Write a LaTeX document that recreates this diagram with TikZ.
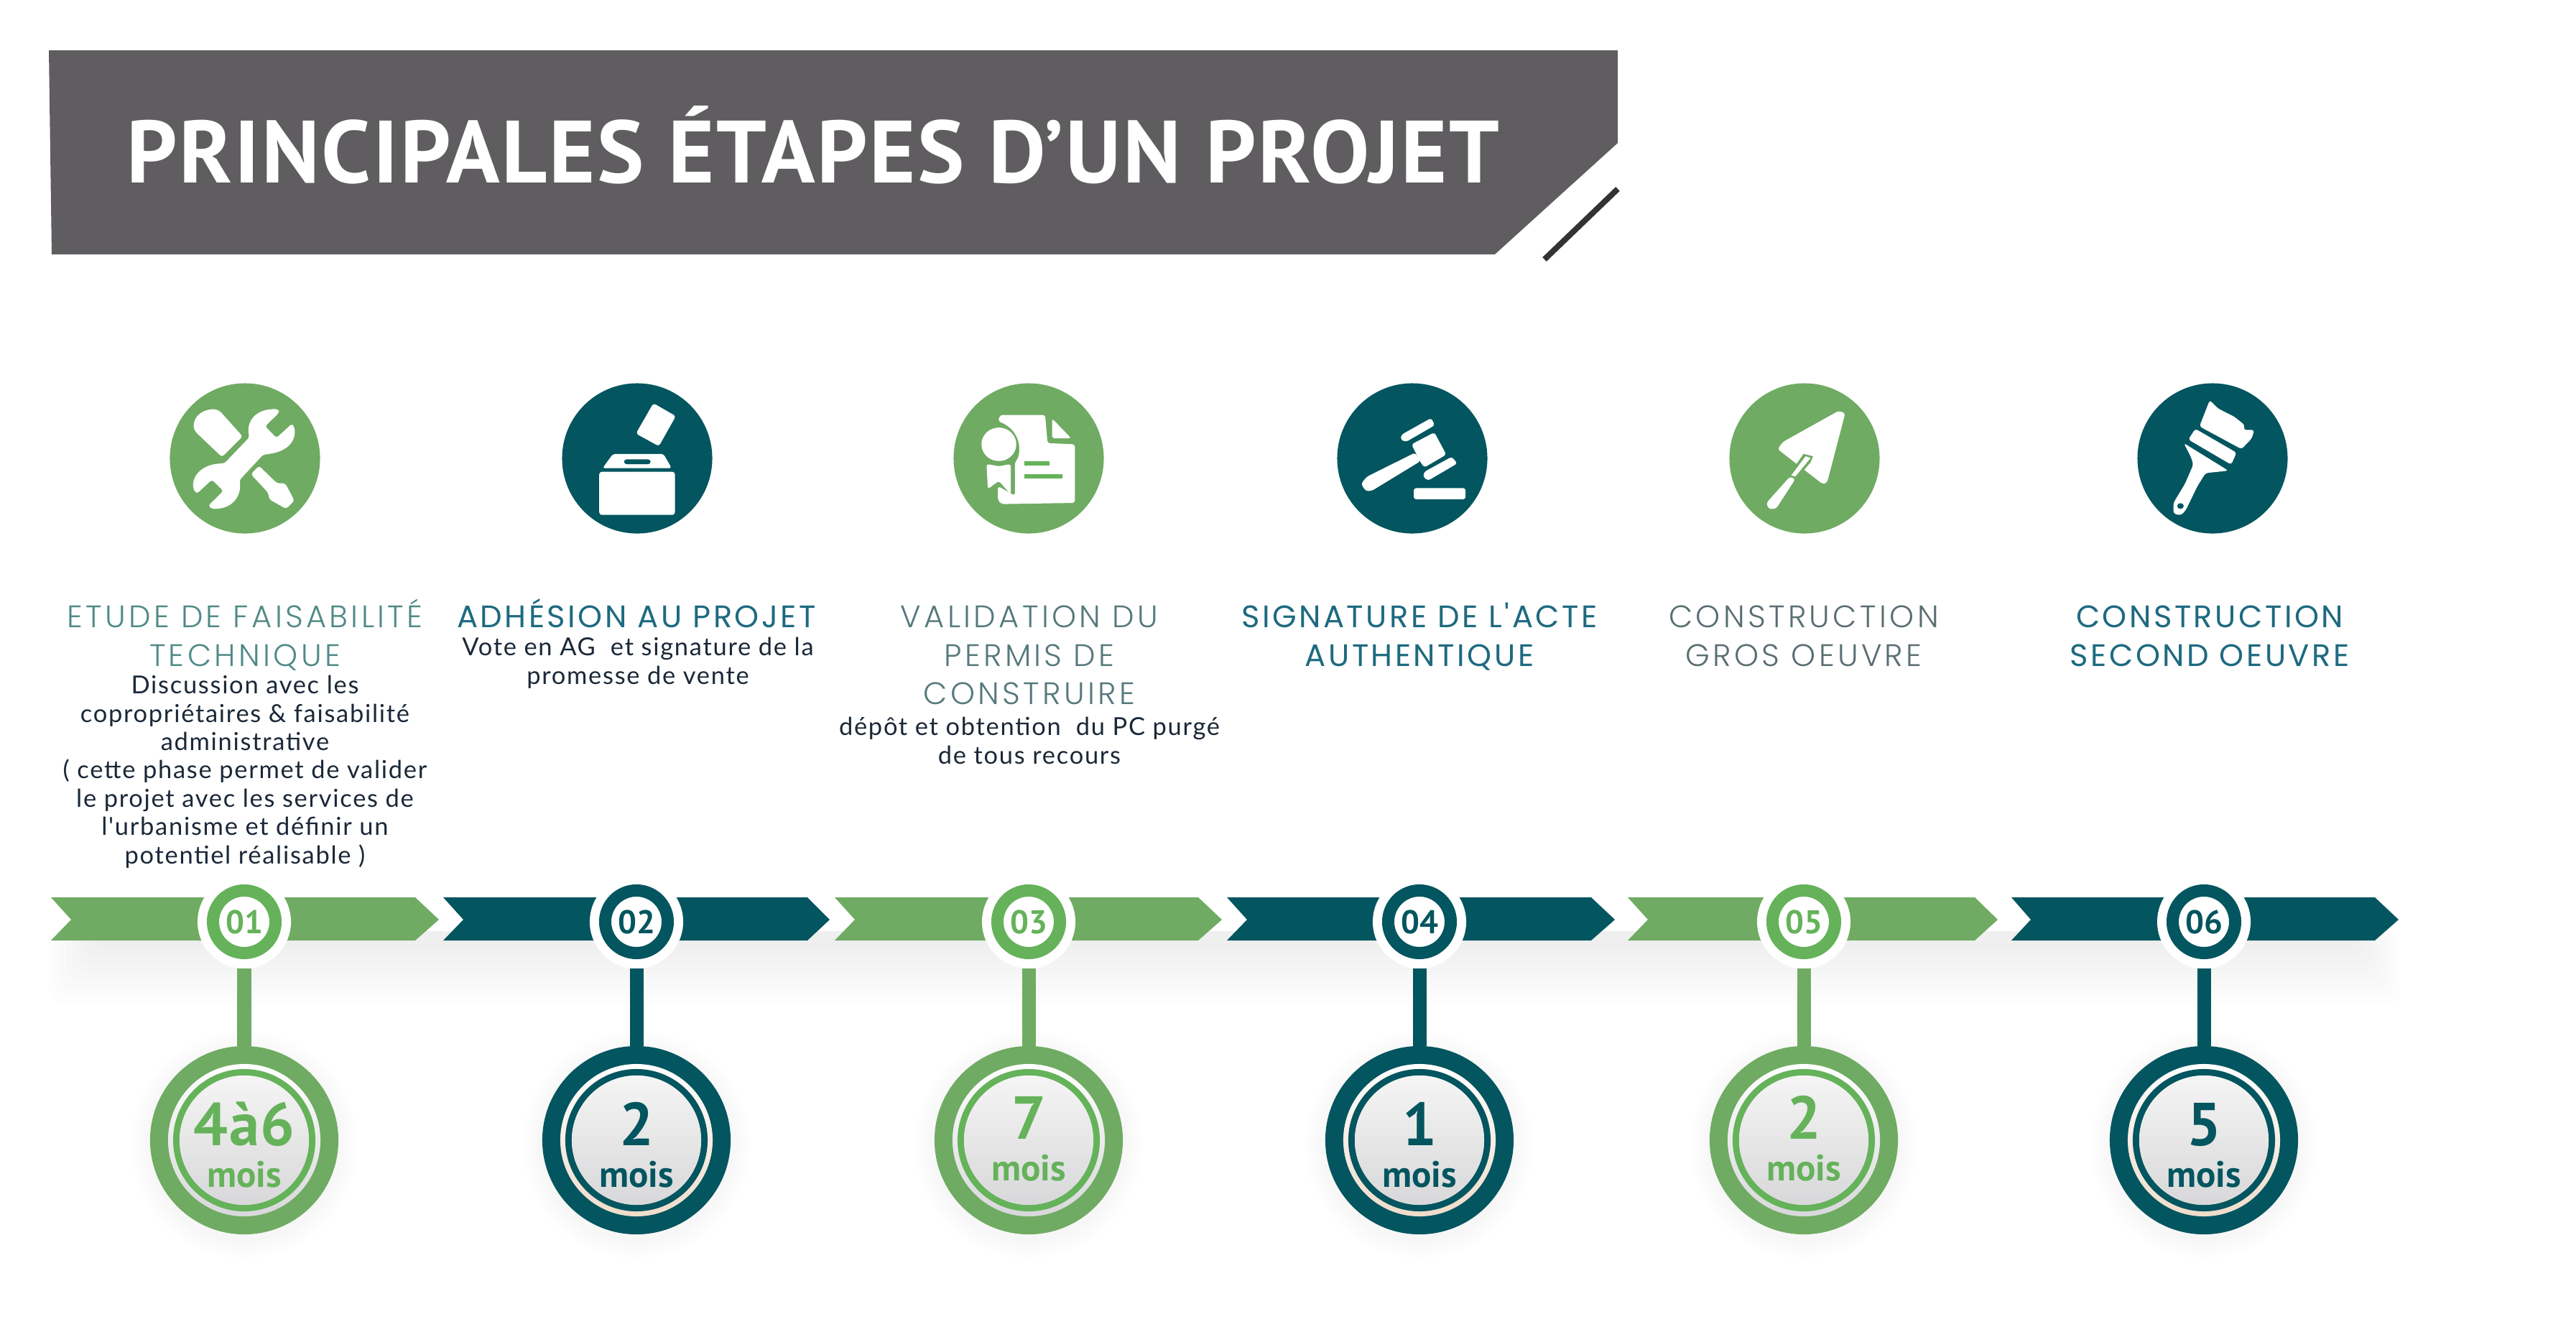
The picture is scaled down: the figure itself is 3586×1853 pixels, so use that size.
\documentclass[tikz,border=0pt]{standalone}
\usepackage{fontspec}
\setmainfont{Lato}
\newfontfamily\headf[LetterSpace=2.2]{PT Sans}
\newfontfamily\numf{PT Sans}
\newfontfamily\thinf[LetterSpace=10]{Poppins Light}
\newfontfamily\regf[LetterSpace=8]{Poppins}
\newfontfamily\bodyf[LetterSpace=5]{Lato}
\definecolor{grn}{HTML}{6FAB62}
\definecolor{grnb}{HTML}{65B25A}
\definecolor{tl}{HTML}{03555F}
\definecolor{ttlgrey}{HTML}{5F5D60}
\definecolor{softg}{HTML}{D8D8DA}
\definecolor{softp}{HTML}{EFDCCB}
\definecolor{thing}{HTML}{4F8A86}
\definecolor{thinb}{HTML}{56797C}
\definecolor{thingr}{HTML}{5A6E72}
\definecolor{regt}{HTML}{1E6A80}
\definecolor{bodyc}{HTML}{1B2838}
\newcommand\firstline{\rule{0pt}{.45cm}}
\newcommand\firstbody{\rule{0pt}{.30cm}}
\tikzset{
  dot/.style={circle,fill=white,inner sep=0pt,outer sep=0pt,minimum size=1.30cm,font=\numf\bfseries\fontsize{13}{13}\selectfont},
  disc/.style={circle,inner sep=0pt,outer sep=0pt,minimum size=2.62cm},
  ico/.style={circle,inner sep=0pt,outer sep=0pt,minimum size=2.09cm},
  dur/.style={anchor=base,inner sep=0pt,font=\numf\bfseries\fontsize{24}{24}\selectfont},
  durm/.style={anchor=base,inner sep=0pt,font=\numf\bfseries\fontsize{14.5}{14.5}\selectfont},
  ttl/.style={align=center,anchor=north,inner sep=0pt},
  thintitle/.style={ttl,font=\thinf\fontsize{12.3}{15.2}\selectfont},
  regtitle/.style={ttl,text=regt,font=\regf\fontsize{12.3}{15.2}\selectfont},
  bodytxt/.style={align=center,anchor=north,inner sep=0pt,text=bodyc,font=\bodyf\fontsize{9.8}{11.2}\selectfont},
  wh/.style={fill=white,draw=none,rounded corners=1pt},
}
\newcommand\arrowshape[6]{% colour, x0, notch, shoulder, tip
  \fill[#1] (#2,1249) -- (#4,1249) -- (#5,1280) -- (#4,1309) -- (#2,1309) -- (#3,1280) -- cycle;}
\newcommand\stage[7]{%
  \node[dot,text=#3] (b#1) at (#2,1283) {#4};
  \draw[#3,line width=.17cm] (b#1.center) circle [radius=.435cm];
  \foreach \i in {1,...,8}
    \fill[black,opacity=.005] (#2,{1593}) circle [radius={(1.31+\i*0.035)*1cm}];
  \node[disc,fill=#7] (d#1) at (#2,1587) {};
  \draw[#7,line width=.19cm] (b#1) -- (d#1);
  \shade[top color=white,middle color=white,bottom color=softbase] (d#1.center) circle [radius=1.06cm];
  \draw[#3,line width=.09cm] (d#1.center) circle [radius=.945cm];
  \shade[top color=white!96!black,bottom color=softg] (d#1.center) circle [radius=.90cm];
  \node[dur,text=#3] (n#1) at (#2,#6) {#5};
  \node[durm,text=#3] (m#1) at (#2,{#6+58}) {mois};
}
\colorlet{softbase}{softg}
\begin{document}
\begin{tikzpicture}[x=0.01cm,y=-0.01cm]
\useasboundingbox (0,0) rectangle (3586,1853);
\fill[white] (0,0) rectangle (3586,1853);

% banner
\fill[ttlgrey] (68,70) -- (2252,70) -- (2252,199) -- (2081,354) -- (72,354) -- cycle;
\draw[black!80,line width=.08cm] (2150,361) -- (2252,263);
\node[anchor=base west,inner sep=0pt,text=white,font=\headf\bfseries\fontsize{35}{40}\selectfont] (head) at (176,254) {PRINCIPALES ÉTAPES D’UN PROJET};

% band shadow
\foreach \i in {1,...,8}
  \fill[black,opacity=.006,rounded corners=.2cm] ({60+\i*8},1296) rectangle ({3350-\i*8},{1310+(9-\i)*11});

% arrows
\arrowshape{grn}{71}{99}{578}{611}{}
\arrowshape{tl}{617}{645}{1124}{1155}{}
\arrowshape{grn}{1162}{1190}{1668}{1701}{}
\arrowshape{tl}{1708}{1736}{2215}{2248}{}
\arrowshape{grn}{2266}{2294}{2749}{2781}{}
\arrowshape{tl}{2800}{2827}{3306}{3339}{}

% stages
\colorlet{softbase}{softg}
\stage{1}{340}{grnb}{01}{4\kern.02em à\kern.02em 6}{1594}{grn}
\stage{3}{1432}{grnb}{03}{7}{1585}{grn}
\stage{5}{2511}{grnb}{05}{2}{1585}{grn}
\colorlet{softbase}{softp}
\stage{2}{886}{tl}{02}{2}{1594}{tl}
\stage{4}{1976}{tl}{04}{1}{1594}{tl}
\stage{6}{3068}{tl}{06}{5}{1594}{tl}

% icon discs
\node[ico,fill=grn] (i1) at (341,638) {};
\node[ico,fill=tl]  (i2) at (887,638) {};
\node[ico,fill=grn] (i3) at (1432,638) {};
\node[ico,fill=tl]  (i4) at (1966,638) {};
\node[ico,fill=grn] (i5) at (2512,638) {};
\node[ico,fill=tl]  (i6) at (3080,638) {};

% tools + ballot
\begin{scope}[shift={(1.8cm,-5cm)},x=0.006378cm,y=-0.003333cm]
  \fill[wh] (148,310) .. controls (135,280) and (140,225) .. (178,208) .. controls (190,208) and (197,215) .. (205,232) -- (247,322) -- (202,408) -- cycle;
  \fill[wh] (283,445) -- (322,518) -- (340,518) -- (360,590) -- (342,625) -- (305,585) -- (303,558) -- (265,480) -- cycle;
  \fill[wh] (327,222) -- (296,280) -- (321,328) -- (355,268) .. controls (365,300) and (365,385) .. (292,398) -- (240,505) .. controls (245,560) and (230,625) .. (180,625) -- (172,612) -- (205,550) -- (180,503) -- (147,562) .. controls (130,520) and (145,437) .. (207,435) -- (262,325) .. controls (255,270) and (270,205) .. (325,208) -- cycle;
  \fill[wh] (1143,183) -- (1192,237) -- (1155,363) -- (1105,310) -- cycle;
  \fill[wh] (1055,395) -- (1165,395) -- (1183,455) -- (1032,455) -- cycle;
  \fill[tl,rounded corners=1pt] (1079,418) rectangle (1137,438);
  \fill[wh] (1025,470) rectangle (1190,650);
\end{scope}

% document + gavel
\begin{scope}[shift={(12.8cm,-5cm)},x=0.006378cm,y=-0.003333cm]
  \fill[wh] (175,232) -- (273,232) -- (278,350) -- (338,355) -- (338,600) -- (178,605) -- (170,590) -- (170,530) -- (207,570) -- (207,430) .. controls (220,400) and (225,300) .. (170,258) -- cycle;
  \fill[wh] (288,247) -- (330,330) -- (288,330) -- cycle;
  \fill[white] (172,355) ellipse [x radius=38,y radius=70];
  \fill[wh] (145,437) -- (172,447) -- (198,437) -- (198,565) -- (172,508) -- (148,542) -- cycle;
  \fill[grnb] (228,427) rectangle (283,443);
  \fill[grnb] (228,481) rectangle (311,498);
  \fill[wh] (1080,390) -- (1092,425) -- (985,550) -- (972,550) -- (962,520) -- (975,490) -- cycle;
  \fill[wh] (1072,355) -- (1122,305) -- (1148,398) -- (1100,452) -- (1090,425) -- (1080,385) -- cycle;
  \fill[wh] (1115,245) -- (1123,275) -- (1060,345) -- (1048,335) -- (1050,315) -- cycle;
  \fill[wh] (1160,407) -- (1172,435) -- (1108,507) -- (1097,490) -- (1100,470) -- cycle;
  \fill[wh] (1077,538) rectangle (1190,585);
\end{scope}

% trowel + brush
\begin{scope}[shift={(23.4cm,-5cm)},x=0.00574cm,y=-0.003333cm]
  \fill[wh] (232,375) -- (245,345) -- (380,215) -- (396,225) -- (352,515) -- (342,522) -- cycle;
  \fill[grn] (295,395) -- (318,405) -- (312,430) -- (280,495) -- (258,487) -- cycle;
  \fill[white] (300,405) -- (312,412) -- (275,490) -- (265,485) -- cycle;
  \fill[wh] (262,490) -- (275,500) -- (228,625) -- (210,625) -- (205,600) -- cycle;
  \fill[wh] (1280,170) -- (1300,205) -- (1340,240) -- (1365,275) -- (1362,295) -- (1388,295) -- (1382,330) -- (1357,375) -- (1255,280) -- cycle;
  \fill[wh] (1245,290) -- (1345,390) -- (1332,440) -- (1228,335) -- cycle;
  \fill[wh] (1217,350) -- (1325,465) -- (1300,470) -- (1270,475) -- (1250,530) -- (1222,630) -- (1210,652) -- (1192,645) -- (1192,600) -- (1220,520) -- (1240,440) -- (1235,410) -- cycle;
  \fill[tl] (1209,613) ellipse [x radius=8,y radius=12];
\end{scope}

% titles
\node[thintitle,text=thing] (t1) at (341,828) {\firstline ETUDE DE FAISABILITÉ\\TECHNIQUE};
\node[regtitle] (t2) at (886,828) {\firstline ADHÉSION AU PROJET};
\node[thintitle,text=thinb] (t3) at (1433,828) {\firstline VALIDATION DU\\PERMIS DE\\CONSTRUIRE};
\node[regtitle] (t4) at (1976,828) {\firstline SIGNATURE DE L'ACTE\\AUTHENTIQUE};
\node[thintitle,text=thingr] (t5) at (2511,828) {\firstline CONSTRUCTION\\GROS OEUVRE};
\node[regtitle] (t6) at (3076,828) {\firstline CONSTRUCTION\\SECOND OEUVRE};

% body
\node[bodytxt] (x1) at (341,935) {\firstbody Discussion avec les\\copropriétaires \& faisabilité\\administrative\\( cette phase permet de valider\\le projet avec les services de\\l'urbanisme et définir un\\potentiel réalisable )};
\node[bodytxt] (x2) at (888,882) {\firstbody Vote en AG \ et signature de la\\promesse de vente};
\node[bodytxt] (x3) at (1433,993) {\firstbody dépôt et obtention \ du PC purgé\\de tous recours};
\end{tikzpicture}
\end{document}
